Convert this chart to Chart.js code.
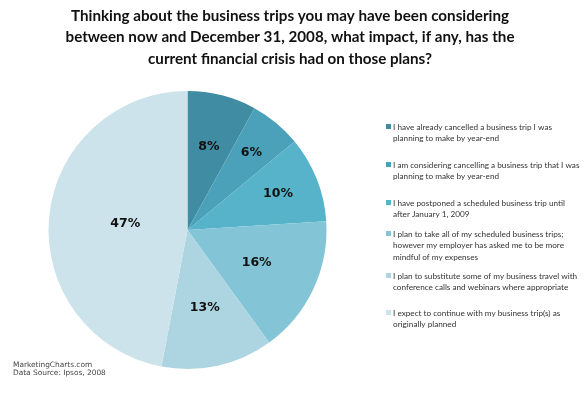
<!DOCTYPE html>
<html>
<head>
<meta charset="utf-8">
<script src="https://cdn.jsdelivr.net/npm/chart.js@4"></script>
<style>
  html, body { margin: 0; padding: 0; background: #fff; }
  #wrap { width: 585px; height: 396px; }
</style>
</head>
<body>
<div id="wrap"><canvas id="grafico" width="585" height="396"></canvas></div>
<script>
const titulo = [
    "Thinking about the business trips you may have been considering",
    "between now and December 31, 2008, what impact, if any, has the",
    "current financial crisis had on those plans?"
];
const respuestas = [
    ["I have already cancelled a business trip I was", "planning to make by year-end"],
    ["I am considering cancelling a business trip that I was", "planning to make by year-end"],
    ["I have postponed a scheduled business trip until", "after January 1, 2009"],
    ["I plan to take all of my scheduled business trips;", "however my employer has asked me to be more", "mindful of my expenses"],
    ["I plan to substitute some of my business travel with", "conference calls and webinars where appropriate"],
    ["I expect to continue with my business trip(s) as", "originally planned"]
];
const porcentajes = [8, 6, 10, 16, 13, 47];
const fuente = ["MarketingCharts.com", "Data Source: Ipsos, 2008"];

const colores = ["#3f8ca3", "#4aa1b9", "#56b3ca", "#83c4d6", "#acd4e1", "#cde3eb"];

// distancia de la etiqueta al centro (fraccion del radio)
const posEtiqueta = [0.62, 0.72, 0.70, 0.55, 0.57, 0.45];

const textos = {
    id: "textos",
    afterDraw(chart) {
        const c = chart.ctx;
        c.save();
        // titulo
        c.fillStyle = "#111";
        c.font = "bold 15.2px Lato";
        c.textAlign = "center";
        c.textBaseline = "middle";
        titulo.forEach((t, i) => c.fillText(t, 290, 16 + i * 21.5));

        // etiquetas
        const arcs = chart.getDatasetMeta(0).data;
        c.font = "bold 12.5px 'DejaVu Sans'";
        c.fillStyle = "#111";
        arcs.forEach((a, i) => {
            const mid = (a.startAngle + a.endAngle) / 2;
            const r = a.outerRadius * posEtiqueta[i];
            c.fillText(porcentajes[i] + "%", a.x + Math.cos(mid) * r, a.y + Math.sin(mid) * r);
        });

        // leyenda
        c.textAlign = "left";
        c.font = "8.2px Lato";
        const tops = [127, 165, 203, 234, 276, 313];
        respuestas.forEach((lineas, i) => {
            c.fillStyle = colores[i];
            c.fillRect(386, tops[i] - 3, 5, 5);
            c.fillStyle = "#333";
            lineas.forEach((l, j) => c.fillText(l, 393, tops[i] + j * 11.5));
        });

        // fuente
        c.font = "7.4px 'DejaVu Sans'";
        c.fillStyle = "#444";
        fuente.forEach((l, i) => c.fillText(l, 13, 365 + i * 8.5));
        c.restore();
    }
};

new Chart(document.getElementById("grafico"), {
    type: "pie",
    data: {
        labels: respuestas.map(r => r.join(" ")),
        datasets: [{
            data: porcentajes,
            backgroundColor: colores,
            borderWidth: 0
        }]
    },
    options: {
        responsive: false,
        animation: false,
        layout: {
            padding: { left: 48, right: 258, top: 91, bottom: 27 }
        },
        plugins: {
            legend: { display: false },
            tooltip: { enabled: false }
        }
    },
    plugins: [textos]
});
</script>
</body>
</html>
